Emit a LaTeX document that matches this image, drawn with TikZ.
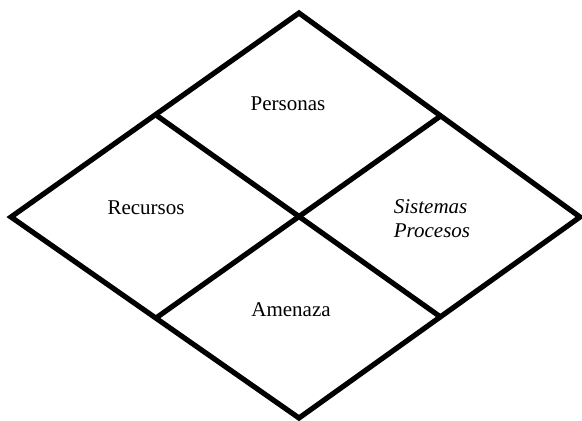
\documentclass[tikz,border=0pt]{standalone}
\usepackage{fontspec}
\setmainfont{Liberation Serif}
\tikzset{
  edge/.style={line width=5.2pt, line join=miter},
  cell/.style={font=\fontsize{21}{25}\selectfont, align=left, inner sep=0pt}
}
\begin{document}
\begin{tikzpicture}[x=1pt,y=-1pt]
 \useasboundingbox (0,0) rectangle (582,421);
 % outer rhombus
 \draw[edge](299,13)--(580,217)--(299,418)--(11,217)--cycle;
 % inner cross lines
 \draw[edge](156,115)--(442,318);
 \draw[edge](442,115)--(156,318);
 % labels
 \node[cell] (personas) at (288,104) {Personas};
 \node[cell] (recursos) at (146,208) {Recursos};
 \node[cell,font=\fontsize{21}{24}\selectfont\itshape] (sistemas) at (432,219) {Sistemas\\Procesos};
 \node[cell] (amenaza) at (291,310) {Amenaza};
\end{tikzpicture}
\end{document}
